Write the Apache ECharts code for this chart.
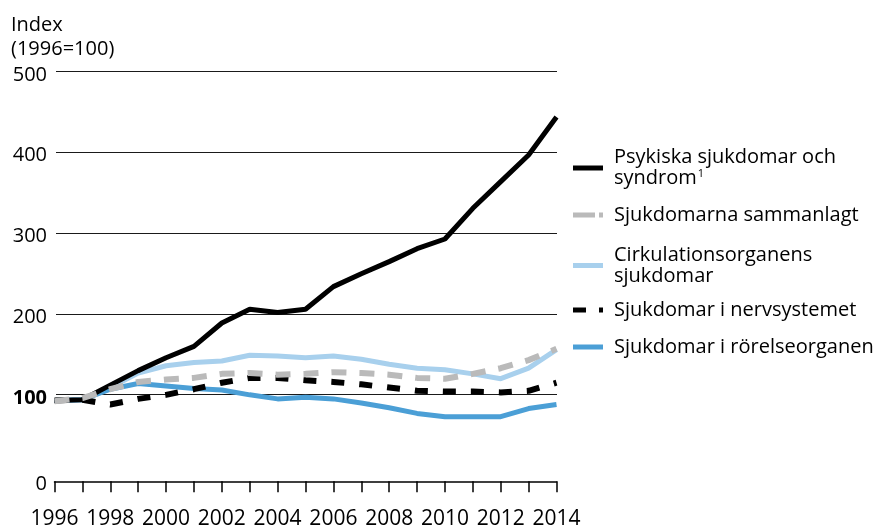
<!DOCTYPE html>
<html><head><meta charset="utf-8">
<script src="https://cdn.jsdelivr.net/npm/echarts@6/dist/echarts.min.js"></script>
<style>html,body{margin:0;padding:0;background:#fff}#c{width:882px;height:526px}</style>
</head><body><div id="c"></div>
<script>
const years = ['1996','1997','1998','1999','2000','2001','2002','2003','2004','2005','2006','2007','2008','2009','2010','2011','2012','2013','2014'];
const psykiska    = [100,101,119,137,153,167,196,213,209,213,241,257,272,288,300,338,371,404,451];
const sammanlagt  = [99,103,114,123,126,128,133,134,132,133,135,134,132,128,127,133,140,150,164];
const cirkulation = [100,101,116,134,143,147,149,156,155,153,155,151,145,140,138,133,127,140,163];
const nerv        = [100,101,95,102,107,114,122,128,128,125,123,120,116,112,111,111,110,112,122];
const rorelse     = [100,101,114,121,118,115,113,107,102,104,102,97,91,84,80,80,80,90,95];
const yTicks = [100,200,300,400,500];
const names = ['Psykiska sjukdomar och syndrom','Sjukdomarna sammanlagt','Cirkulationsorganens sjukdomar','Sjukdomar i nervsystemet','Sjukdomar i rörelseorganen'];
const legendLabels = ['{t|Psykiska sjukdomar och}\n{t|syndrom}{s|1}','{t|Sjukdomarna sammanlagt}','{t|Cirkulationsorganens}\n{t|sjukdomar}','{t|Sjukdomar i nervsystemet}','{t|Sjukdomar i rörelseorganen}'];

const FONT = "'Open Sans', sans-serif";
const C = {black:'#000000', gray:'#bababa', light:'#a8d0ed', blue:'#4b9fd6'};

const chart = echarts.init(document.getElementById('c'));
const legendTops = [147, 204.5, 244.5, 299.5, 336.5];
const legendIcons = ['rect', 'path://M0,0H22V5H0Z M26,0H30V5H26Z', 'rect', 'path://M0,0H13V5H0Z M26,0H30V5H26Z', 'rect'];
const legendColors = [C.black, C.gray, C.light, C.black, C.blue];
const legends = names.map((n,i)=>({
  left: 573, top: legendTops[i], orient: 'vertical', padding: 0,
  itemWidth: 30, itemHeight: 5, selectedMode: false,
  data: [{name: n, icon: legendIcons[i], itemStyle: {color: legendColors[i]}}],
  formatter: () => legendLabels[i],
  textStyle: {fontFamily: FONT, fontSize: 20, color: '#000', lineHeight: 21, padding: [0,0,0,6],
    rich: {
      t: {fontFamily: FONT, fontSize: 20, color: '#000', lineHeight: 21},
      s: {fontFamily: FONT, fontSize: 11, color: '#000', lineHeight: 21, padding: [0,0,9,1]}
    }}
}));

chart.setOption({
  animation: false,
  title: {text: 'Index\n(1996=100)', left: 11, top: 13, padding: 0,
    textStyle: {fontFamily: FONT, fontSize: 20, fontWeight: 'normal', color: '#000', lineHeight: 24}},
  legend: legends,
  grid: [
    {left: 56, width: 501, top: 71.5, height: 323, outerBoundsMode: 'none', containLabel: false},
    {left: 54.5, width: 502, top: 77.5, height: 403.75, outerBoundsMode: 'none', containLabel: false}
  ],
  xAxis: [
    {gridIndex: 0, type: 'category', data: years, boundaryGap: false, show: false},
    {gridIndex: 1, type: 'category', data: years, boundaryGap: false,
     axisLine: {show: true, lineStyle: {color: '#000', width: 1.5}},
     axisTick: {show: true, interval: 0, inside: false, length: 11, lineStyle: {color: '#000', width: 1.5}},
     axisLabel: {interval: 1, fontFamily: FONT, fontSize: 21, color: '#000', margin: 27},
     splitLine: {show: false}}
  ],
  yAxis: [
    {gridIndex: 0, type: 'value', min: yTicks[0], max: yTicks[yTicks.length-1], interval: 100,
     axisLine: {show: false}, axisTick: {show: false},
     splitLine: {show: true, lineStyle: {color: '#1a1a1a', width: 1.2}},
     axisLabel: {margin: 9,
       formatter: v => v === 100 ? '{b|' + v + '}' : '{n|' + v + '}',
       rich: {
         n: {fontFamily: FONT, fontSize: 20, color: '#000', padding: [7,0,0,0]},
         b: {fontFamily: FONT, fontSize: 20, color: '#000', fontWeight: 'bold', padding: [7,0,0,0]}
       }}},
    {gridIndex: 1, type: 'value', min: 0, max: 500, interval: 500,
     axisLine: {show: false}, axisTick: {show: false}, splitLine: {show: false},
     axisLabel: {margin: 7.5, formatter: v => v === 0 ? '{n|0}' : '',
       rich: {n: {fontFamily: FONT, fontSize: 20, color: '#000', padding: [7,0,0,0]}}}}
  ],
  series: [
    {name: names[2], type: 'line', xAxisIndex: 1, yAxisIndex: 1, data: cirkulation, symbol: 'none',
     lineStyle: {color: C.light, width: 5}, itemStyle: {color: C.light}},
    {name: names[4], type: 'line', xAxisIndex: 1, yAxisIndex: 1, data: rorelse, symbol: 'none',
     lineStyle: {color: C.blue, width: 5}, itemStyle: {color: C.blue}},
    {name: names[0], type: 'line', xAxisIndex: 1, yAxisIndex: 1, data: psykiska, symbol: 'none',
     lineStyle: {color: C.black, width: 5}, itemStyle: {color: C.black}},
    {name: names[3], type: 'line', xAxisIndex: 1, yAxisIndex: 1, data: nerv, symbol: 'none',
     lineStyle: {color: C.black, width: 6, type: [13, 15]}, itemStyle: {color: C.black}},
    {name: names[1], type: 'line', xAxisIndex: 1, yAxisIndex: 1, data: sammanlagt, symbol: 'none',
     lineStyle: {color: C.gray, width: 6, type: [15, 13]}, itemStyle: {color: C.gray}}
  ]
});
</script></body></html>
